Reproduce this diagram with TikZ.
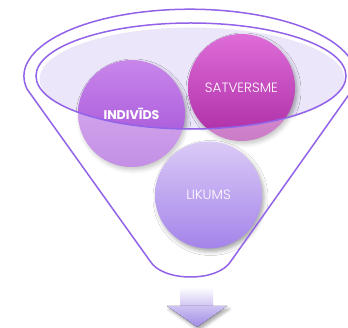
\documentclass[tikz,border=0pt]{standalone}
\usepackage{fontspec}
\setmainfont{Poppins}
\newfontfamily\lightf{Poppins Light}
\usetikzlibrary{shadows.blur}
\definecolor{funnelc}{RGB}{146,98,232}
\definecolor{lav}{RGB}{236,230,250}
\definecolor{indtop}{RGB}{200,134,234}
\definecolor{indbot}{RGB}{160,76,214}
\definecolor{sattop}{RGB}{222,108,216}
\definecolor{satbot}{RGB}{172,44,164}
\definecolor{liktop}{RGB}{218,202,246}
\definecolor{likbot}{RGB}{164,132,234}
\definecolor{arrtop}{RGB}{206,194,242}
\definecolor{arrbot}{RGB}{160,140,228}
\tikzset{
  ball/.style={circle, minimum size=107pt, inner sep=0pt, text=white,
    blur shadow={shadow xshift=2pt, shadow yshift=-3pt, shadow blur radius=4pt, shadow opacity=35}},
  funnelline/.style={draw=funnelc, line width=1.5pt},
  lbl/.style={font=\lightf\fontsize{13.5}{13.5}\selectfont}
}
\begin{document}
\begin{tikzpicture}[x=1pt,y=-1pt]
\useasboundingbox (0,0) rectangle (348,328);
% top lavender surface
\fill[lav, draw=white, line width=1pt] (192,79) ellipse[x radius=153, y radius=52];
% upper balls
\node[ball, top color=indtop, bottom color=indbot] (ind) at (131.5,113.5) {};
\node[ball, top color=sattop, bottom color=satbot] (sat) at (241.5,87.5) {};
% translucent funnel body over the balls
\fill[white, opacity=0.38, even odd rule]
  (27,89) arc[start angle=169, end angle=371, x radius=166, y radius=67]
  -- (231,261) .. controls (225,271) and (209,277) .. (190.5,277)
  .. controls (172,277) and (156,271) .. (150,261) -- cycle
  (191,76) ellipse[x radius=155, y radius=53];
\node[font=\bfseries\fontsize{12.6}{12.6}\selectfont, text=white] (indt) at (131.5,113.5) {INDIVĪDS};
\node[lbl, text=white] (satt) at (sat.center) {SATVERSME};
% lower ball
\node[ball, top color=liktop, bottom color=likbot] (lik) at (208.5,195) {};
\node[lbl, text=white] (likt) at (lik.center) {LIKUMS};
% rim of the top surface
\draw[funnelline] (191,76) ellipse[x radius=155, y radius=53];
% funnel outline
\draw[funnelline, line join=round]
  (27,89) arc[start angle=169, end angle=371, x radius=166, y radius=67]
  -- (231,261) .. controls (225,271) and (209,277) .. (190.5,277)
  .. controls (172,277) and (156,271) .. (150,261) -- cycle;
% down arrow
\fill[top color=white, bottom color=arrtop] (180,287) rectangle (213,307);
\fill[top color=arrtop, bottom color=arrbot,
  blur shadow={shadow xshift=2pt, shadow yshift=-3pt, shadow blur radius=3pt, shadow opacity=35}]
  (167,306) -- (227,306) -- (197,327) -- cycle;
\end{tikzpicture}
\end{document}
